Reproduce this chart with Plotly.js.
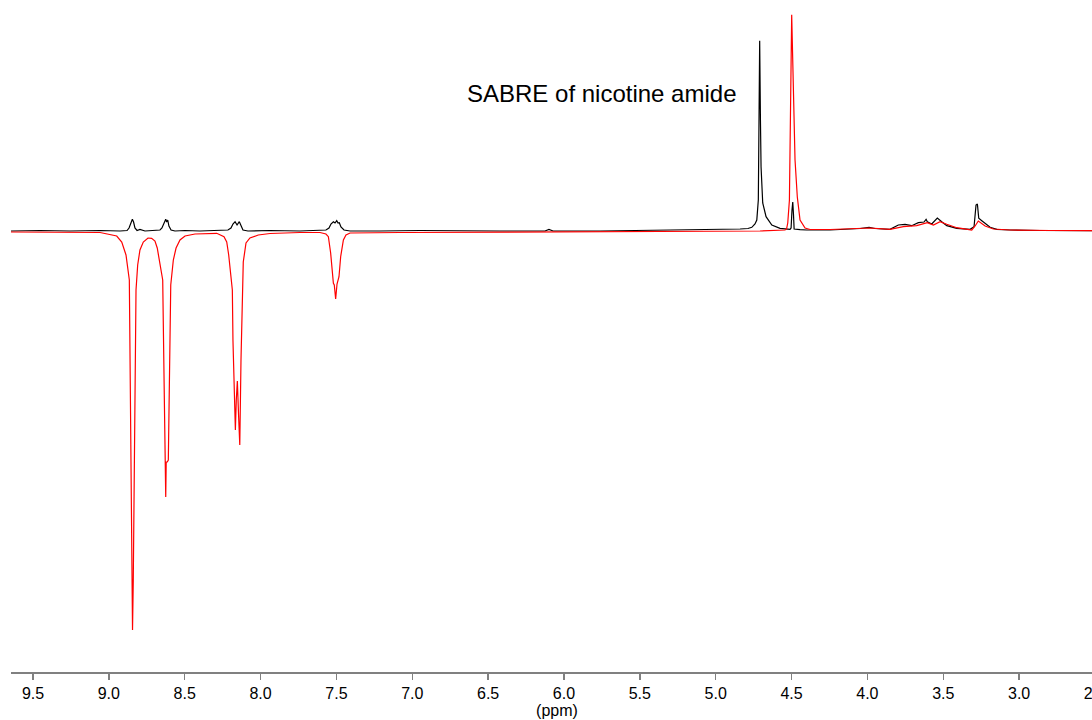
<!DOCTYPE html>
<html>
<head>
<meta charset="utf-8">
<script src="https://cdn.plot.ly/plotly-3.0.1.min.js"></script>
<style>
  html, body { margin: 0; padding: 0; overflow: hidden; background: #ffffff; }
  #chart { width: 1130px; height: 720px; }
</style>
</head>
<body>
<div id="chart"></div>
<script>
// 1H NMR spectra: thermal reference (black) and SABRE-hyperpolarised (red)
// Chemical shift in ppm, intensity in arbitrary units.

const thermalPpm = [
  9.645, 9.454, 9.256, 9.058, 8.926, 8.880, 8.867, 8.854, 8.845, 8.837, 8.828, 8.814, 8.795, 8.762,
  8.696, 8.663, 8.650, 8.636, 8.625, 8.619, 8.612, 8.604, 8.590, 8.564,
  8.498, 8.399, 8.267, 8.215, 8.195, 8.182, 8.168, 8.155, 8.140, 8.129, 8.116, 8.083,
  7.938, 7.740, 7.608, 7.569, 7.549, 7.536, 7.520, 7.509, 7.498, 7.489, 7.481, 7.470, 7.450, 7.410,
  7.213, 6.949, 6.422, 6.125, 6.099, 6.072, 5.762, 5.433, 5.103, 4.971, 4.839, 4.787,
  4.762, 4.741, 4.729, 4.719, 4.714, 4.710, 4.705, 4.701, 4.690, 4.668, 4.630, 4.576,
  4.510, 4.503, 4.497, 4.492, 4.487, 4.483, 4.444, 4.400, 4.246,
  4.114, 4.048, 3.989, 3.950, 3.851, 3.796, 3.752, 3.708, 3.664, 3.627, 3.613, 3.605, 3.576,
  3.539, 3.510, 3.477, 3.411, 3.323, 3.297, 3.287, 3.284, 3.275, 3.266, 3.246, 3.224, 3.191,
  3.147, 3.060, 2.862, 2.664, 2.447
];
const thermalInt = [
  0, 0.5, 0, 0.5, 0, 0.5, 3, 9, 11.7, 9, 3, 0.5, 1.5, 0,
  0.5, 1, 3, 9, 11.7, 9, 11, 5, 1, 0,
  0.5, 0, 0.5, 1, 3, 7, 9.3, 6, 9.3, 5, 1, 0,
  0.5, 0, 0.5, 1, 3, 7, 9.3, 8, 10.3, 8, 8.3, 4, 1, 0,
  0, 0.5, 0, 0, 1.5, 0, 0, 0.5, 1, 1.5, 2, 2.5,
  3.7, 7, 11, 31, 91, 190.3, 111, 64.3, 28, 14.3, 6, 2.7,
  1.7, 3, 21, 29, 16, 2, 1.3, 1, 1,
  2, 2.5, 3.7, 2.5, 1.7, 6, 6.7, 5.3, 8.3, 9, 11.7, 9.3, 7,
  13, 9.3, 5.3, 2.7, 1.7, 4.3, 17, 26, 27, 12.7, 10.3, 7.7, 3.7,
  1.7, 1, 0.5, 0.5, 0.3
];

const sabrePpm = [
  9.645, 9.454, 9.256, 9.058, 8.948, 8.915, 8.887, 8.874, 8.865, 8.859, 8.854, 8.849, 8.844,
  8.839, 8.833, 8.828, 8.821, 8.810, 8.795, 8.773, 8.742, 8.718, 8.696, 8.681, 8.663,
  8.645, 8.636, 8.629, 8.625, 8.622, 8.615, 8.608, 8.600, 8.592, 8.575, 8.557, 8.531,
  8.498, 8.432, 8.333, 8.289, 8.241, 8.223, 8.210, 8.201, 8.186, 8.182, 8.175, 8.166,
  8.160, 8.153, 8.145, 8.137, 8.129, 8.120, 8.114, 8.096, 8.070, 8.015, 7.938,
  7.740, 7.608, 7.569, 7.553, 7.538, 7.529, 7.520, 7.514, 7.505, 7.496, 7.487, 7.483,
  7.472, 7.454, 7.437, 7.410, 7.081, 6.422, 5.762, 5.103, 4.708,
  4.543, 4.533, 4.525, 4.514, 4.499, 4.477, 4.462, 4.444, 4.411, 4.378, 4.246,
  4.114, 3.983, 3.851, 3.763, 3.675, 3.605, 3.565, 3.521, 3.477, 3.411,
  3.312, 3.290, 3.269, 3.253, 3.224, 3.170, 3.060, 2.796, 2.447
];
const sabreInt = [
  -1, -1, -1.5, -1.5, -5, -11, -24, -37, -49, -149, -249, -349, -399,
  -349, -249, -149, -59, -34, -19, -11, -7, -7.3, -10, -17, -34,
  -49, -149, -229, -266, -231, -231, -229, -139, -54, -29, -17, -9,
  -5, -3, -2, -2.3, -5.7, -11, -24, -37, -59, -109, -159, -199,
  -169, -150, -184, -214, -129, -54, -31, -12, -7, -4, -2.5,
  -1.5, -1.5, -3, -5.7, -22, -39, -52.3, -54, -68, -53, -47, -45.7,
  -25.7, -9, -4, -2, -1.5, -1, -1, -0.5, 0,
  1, 2, 8, 31, 216.3, 71, 34, 11, 3, 1.5, 1.5,
  2, 3, 1.7, 4.3, 5.3, 8.3, 6, 9.3, 6.7, 3.3,
  1, 5, 10, 8.3, 5, 2, 1, 0.5, 0.3
];

const shiftTicks = [9.5, 9.0, 8.5, 8.0, 7.5, 7.0, 6.5, 6.0, 5.5, 5.0, 4.5, 4.0, 3.5, 3.0, 2.5];
const shiftTickText = ['9.5', '9.0', '8.5', '8.0', '7.5', '7.0', '6.5', '6.0', '5.5', '5.0', '4.5', '4.0', '3.5', '3.0', '2.5'];
const spectrumLabel = 'SABRE of nicotine amide';

const font = 'Liberation Sans, Arial, Helvetica, sans-serif';

const traces = [
  {
    x: thermalPpm, y: thermalInt, type: 'scatter', mode: 'lines',
    line: { color: '#000000', width: 1.2 }, hoverinfo: 'skip'
  },
  {
    x: sabrePpm, y: sabreInt, type: 'scatter', mode: 'lines',
    line: { color: '#ff0000', width: 1.2 }, hoverinfo: 'skip'
  }
];

const layout = {
  width: 1130, height: 720,
  margin: { l: 11, r: 27, t: 0, b: 48, pad: 0 },
  paper_bgcolor: '#ffffff', plot_bgcolor: '#ffffff',
  showlegend: false,
  hovermode: false,
  font: { family: font, color: '#000000', size: 16 },
  xaxis: {
    range: [9.645, 2.447],
    tickmode: 'array', tickvals: shiftTicks, ticktext: shiftTickText,
    ticks: 'outside', ticklen: 6, tickwidth: 1.5, tickcolor: '#808080',
    ticklabeloverflow: 'allow',
    showline: true, linecolor: '#808080', linewidth: 2,
    showgrid: false, zeroline: false,
    tickfont: { family: font, size: 16, color: '#000000' },
    title: { text: '(ppm)', font: { family: font, size: 16, color: '#000000' }, standoff: 0 }
  },
  yaxis: {
    range: [-441, 231], visible: false, showgrid: false, zeroline: false
  },
  annotations: [{
    text: spectrumLabel, x: 6.652, y: 138, xref: 'x', yref: 'y',
    xanchor: 'left', yanchor: 'middle', showarrow: false,
    font: { family: font, size: 24, color: '#000000' }
  }]
};

Plotly.newPlot('chart', traces, layout, { staticPlot: true, displayModeBar: false });
</script>
</body>
</html>
